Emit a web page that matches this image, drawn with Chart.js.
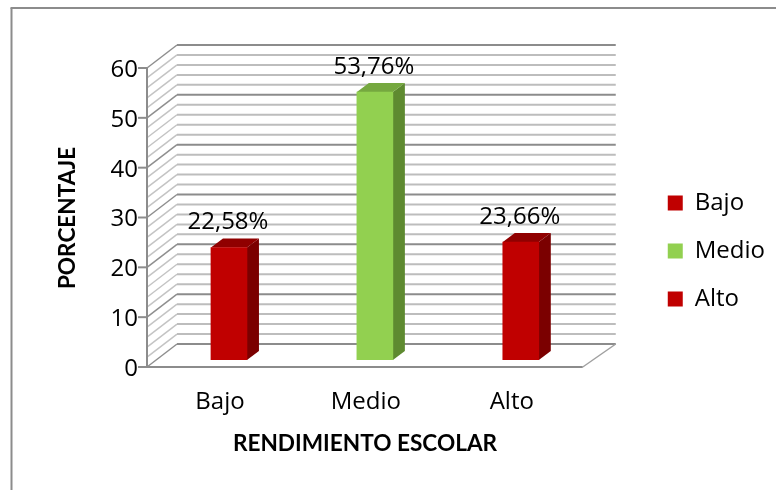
<!DOCTYPE html>
<html>
<head>
<meta charset="utf-8">
<style>
  html, body { margin: 0; padding: 0; background: #fff; }
  #wrap { position: relative; width: 776px; height: 490px; }
</style>
<script src="https://cdn.jsdelivr.net/npm/chart.js@4"></script>
</head>
<body>
<div id="wrap"><canvas id="grafico"></canvas></div>
<script>
const categorias = ['Bajo', 'Medio', 'Alto'];
const porcentajes = [22.58, 53.76, 23.66];
const etiquetas = ['22,58%', '53,76%', '23,66%'];
const colores = ['#c00000', '#92d050', '#c00000'];
const coloresLado = ['#7b0000', '#5e8a30', '#7b0000'];
const coloresTecho = ['#900000', '#75a83f', '#900000'];
const tituloX = 'RENDIMIENTO ESCOLAR';
const tituloY = 'PORCENTAJE';
const FUENTE = '"Open Sans"';
const FUENTE_TITULO = 'Lato';

function linea(ctx, x1, y1, x2, y2, color, ancho) {
    ctx.strokeStyle = color;
    ctx.lineWidth = ancho;
    ctx.beginPath();
    ctx.moveTo(x1, y1);
    ctx.lineTo(x2, y2);
    ctx.stroke();
}

// paredes, piso y lados de las barras en falso 3D
const plugin3d = {
    id: 'plugin3d',
    afterLayout(chart) {
        // la leyenda queda mas a la derecha que el piso del grafico
        chart.legend.left += 50;
        chart.legend.right += 50;
    },
    beforeDraw(chart) {
        const { ctx, width, height } = chart;
        ctx.save();
        linea(ctx, 11.5, height, 11.5, 8, '#8c8c8c', 2);
        linea(ctx, 10.5, 8, width, 8, '#8c8c8c', 2);
        ctx.restore();
    },
    beforeDatasetsDraw(chart) {
        const { ctx, chartArea, scales } = chart;
        const izq = chartArea.left - 9, fondoIzq = chartArea.left + 21;
        const fondoDer = chartArea.right + 22, frenteDer = chartArea.right - 11;
        ctx.save();
        for (let v = 58; v >= 0; v -= 2) {
            if (v % 10 === 0) continue;
            const y = scales.y.getPixelForValue(v);
            linea(ctx, izq, y + 7, fondoIzq, y - 16, '#c4c4c4', 1.5);
            linea(ctx, fondoIzq, y - 16, fondoDer, y - 16, '#bdbdbd', 2);
        }
        for (let v = 60; v >= 0; v -= 10) {
            const y = scales.y.getPixelForValue(v);
            linea(ctx, izq, y + 7, fondoIzq, y - 16, '#8f8f8f', 1.5);
            linea(ctx, fondoIzq, y - 16, fondoDer, y - 16, '#8c8c8c', 2);
            linea(ctx, izq - 9, y + 7, izq, y + 7, '#8c8c8c', 2);
        }
        const y0 = scales.y.getPixelForValue(0);
        linea(ctx, izq, scales.y.getPixelForValue(60) + 7, izq, y0 + 8, '#8c8c8c', 2);
        linea(ctx, izq, y0 + 7, frenteDer, y0 + 7, '#8c8c8c', 2);
        linea(ctx, frenteDer, y0 + 7, fondoDer, y0 - 16, '#a0a0a0', 1.5);

        chart.getDatasetMeta(0).data.forEach((barra, i) => {
            const der = barra.x + barra.width / 2, sup = barra.y;
            const izqB = barra.x - barra.width / 2;
            ctx.fillStyle = coloresLado[i];
            ctx.beginPath();
            ctx.moveTo(der, sup);
            ctx.lineTo(der + 12, sup - 9);
            ctx.lineTo(der + 12, barra.base - 9);
            ctx.lineTo(der, barra.base);
            ctx.closePath();
            ctx.fill();
            ctx.fillStyle = coloresTecho[i];
            ctx.beginPath();
            ctx.moveTo(izqB, sup);
            ctx.lineTo(izqB + 12, sup - 9);
            ctx.lineTo(der + 12, sup - 9);
            ctx.lineTo(der, sup);
            ctx.closePath();
            ctx.fill();
        });
        ctx.restore();
    },
    afterDraw(chart) {
        const { ctx } = chart;
        ctx.save();
        ctx.fillStyle = '#000';
        ctx.textAlign = 'center';
        ctx.textBaseline = 'middle';
        ctx.font = '24px ' + FUENTE;
        chart.getDatasetMeta(0).data.forEach((barra, i) => {
            ctx.fillText(etiquetas[i], barra.x - 1, barra.y - 25);
        });
        ctx.font = 'bold 22.6px ' + FUENTE_TITULO;
        ctx.fillText(tituloX, 365, 444);
        ctx.translate(68, 218);
        ctx.rotate(-Math.PI / 2);
        ctx.fillText(tituloY, 0, 0);
        ctx.restore();
    }
};

new Chart(document.getElementById('grafico'), {
    type: 'bar',
    data: {
        labels: categorias,
        datasets: [{
            data: porcentajes,
            backgroundColor: colores,
            barThickness: 36
        }]
    },
    options: {
        responsive: true,
        maintainAspectRatio: false,
        animation: false,
        layout: { padding: { top: 61, bottom: 49, left: 0, right: 51 } },
        plugins: {
            tooltip: { enabled: false },
            legend: {
                position: 'right',
                labels: {
                    boxWidth: 15,
                    boxHeight: 15,
                    padding: 24,
                    color: '#000',
                    font: { family: FUENTE, size: 24 },
                    generateLabels: () => categorias.map((c, i) => ({
                        text: c, fillStyle: colores[i], strokeStyle: colores[i], lineWidth: 0, index: i
                    }))
                }
            }
        },
        scales: {
            x: {
                grid: { display: false },
                border: { display: false },
                afterFit(scale) { scale.height = 81; },
                ticks: { color: '#000', padding: 20, labelOffset: -9, font: { family: FUENTE, size: 24 } }
            },
            y: {
                min: 0,
                max: 60,
                grid: { display: false },
                border: { display: false },
                afterFit(scale) { scale.width = 156; },
                ticks: { stepSize: 10, color: '#000', padding: 10, labelOffset: 9, font: { family: FUENTE, size: 24 } }
            }
        }
    },
    plugins: [plugin3d]
});
</script>
</body>
</html>
